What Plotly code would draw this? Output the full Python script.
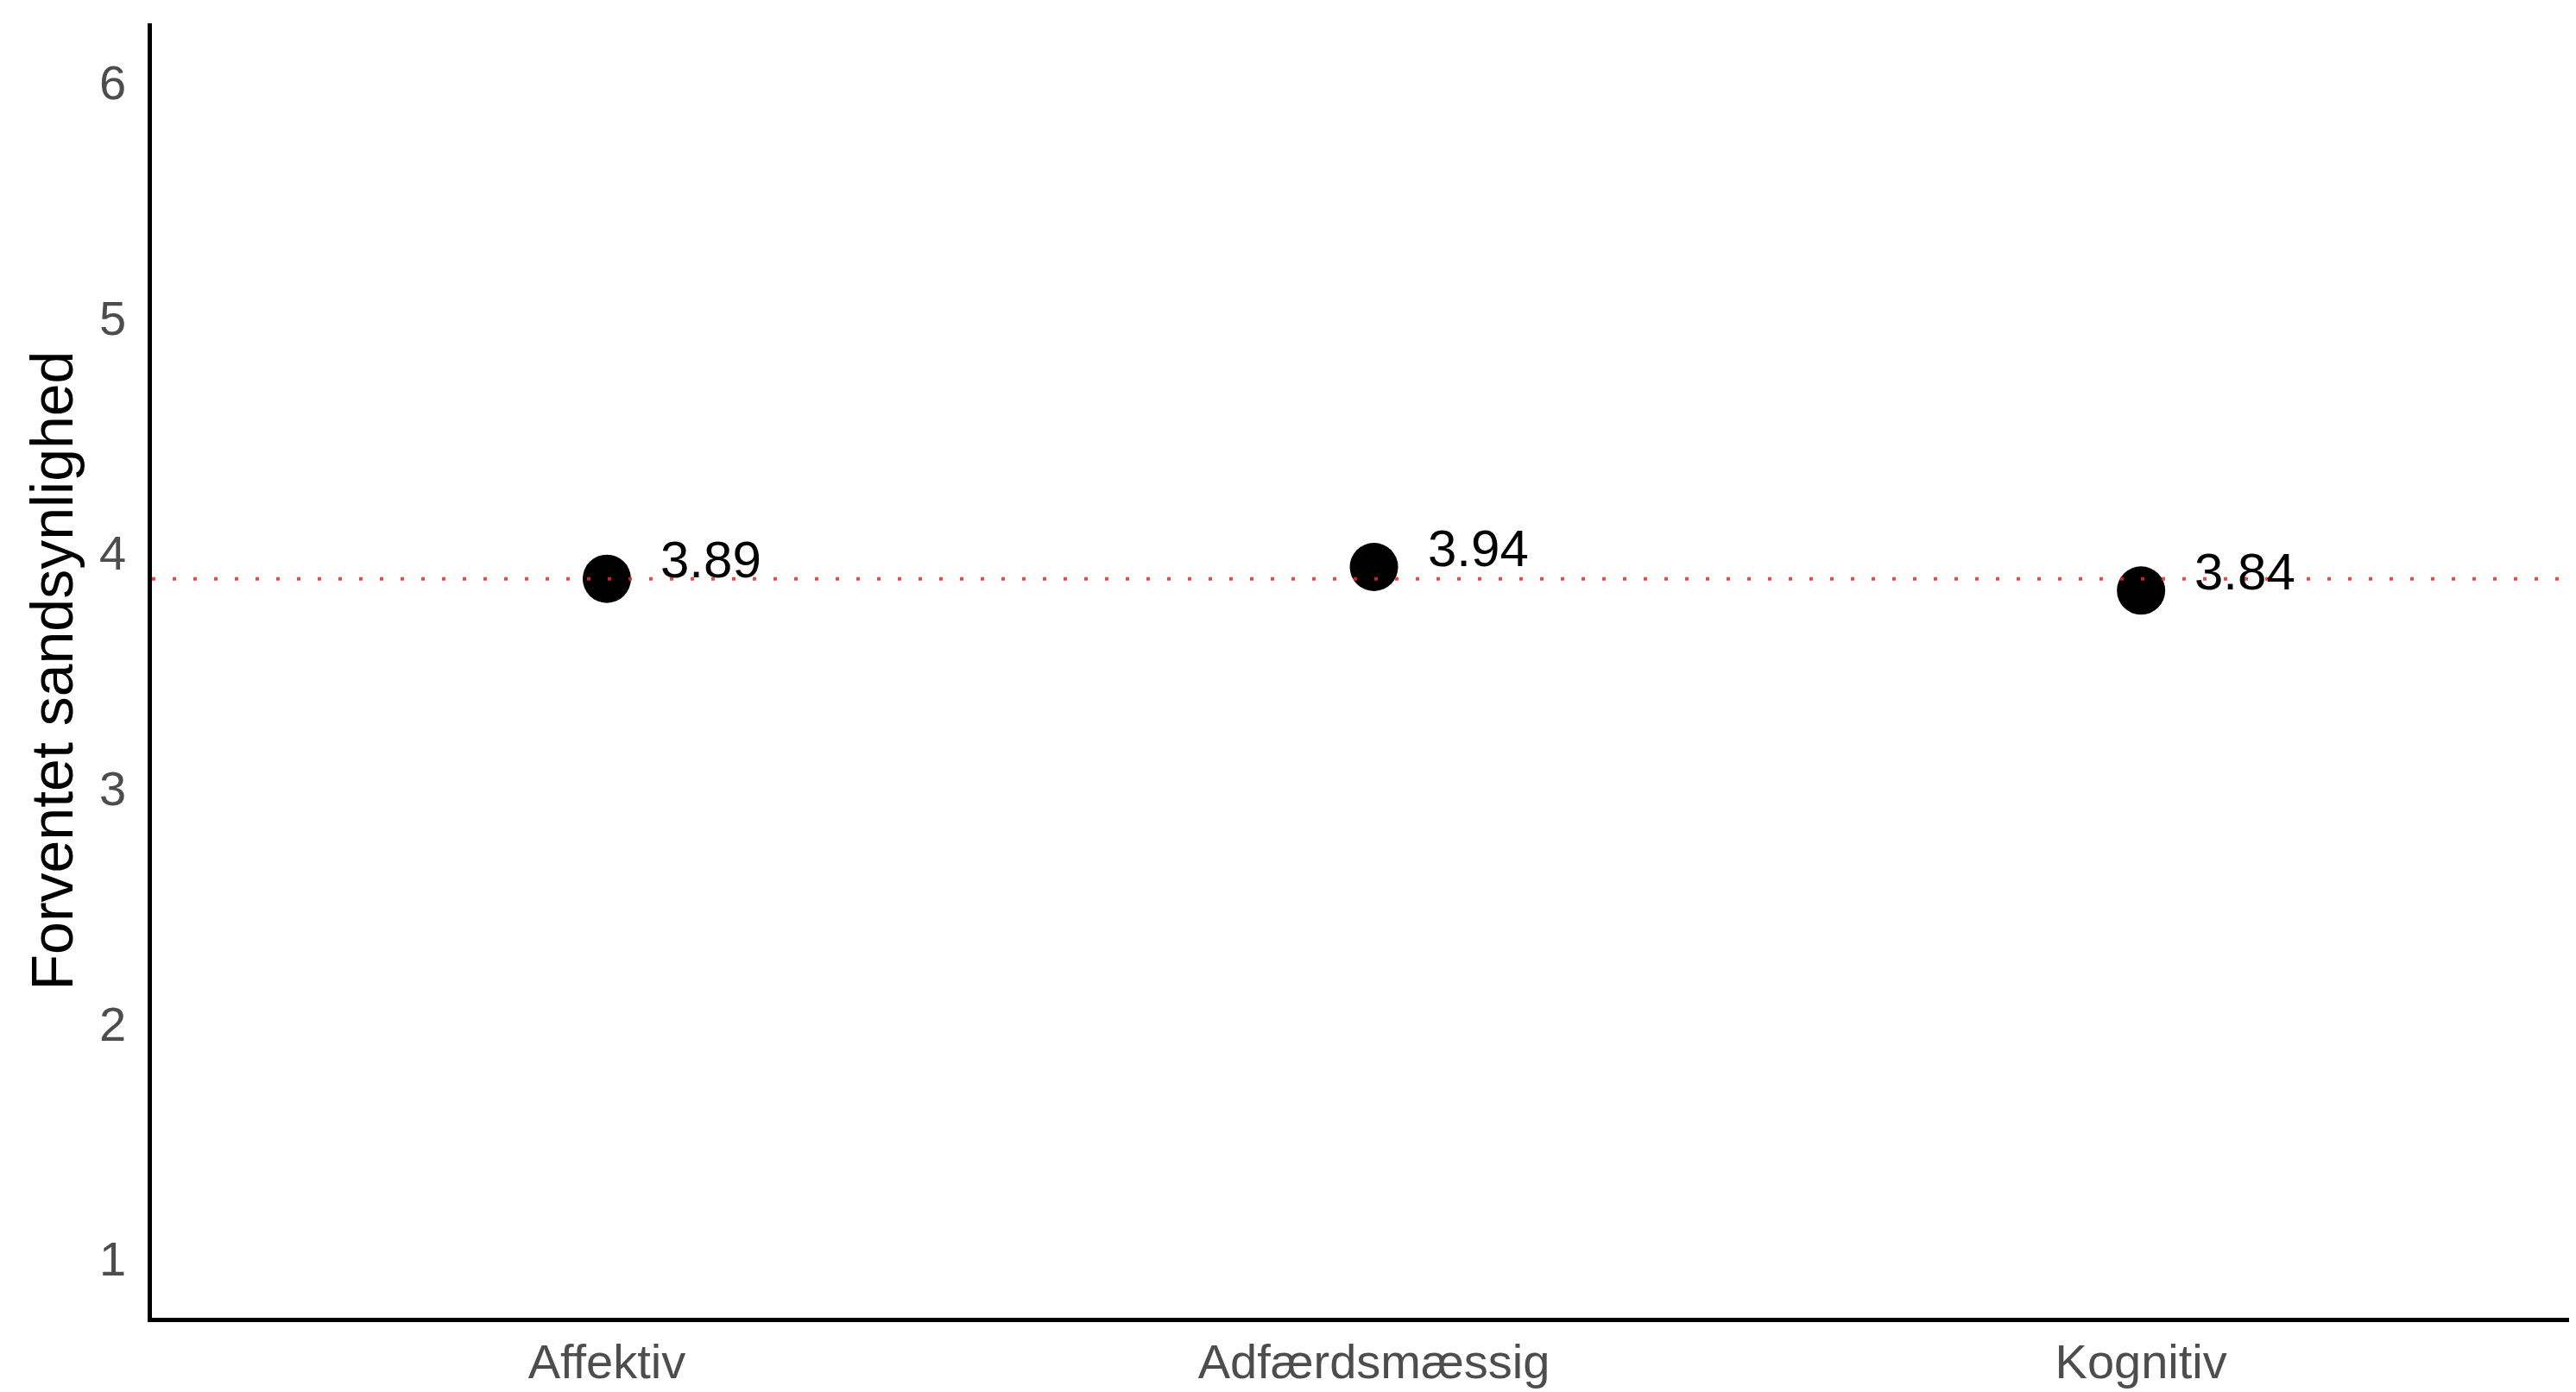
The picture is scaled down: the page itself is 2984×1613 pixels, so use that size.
import plotly.graph_objects as go

categories = ["Affektiv", "Adfærdsmæssig", "Kognitiv"]
values = [3.89, 3.94, 3.84]
labels = ["3.89", "3.94", "3.84"]
y_ticks = [1, 2, 3, 4, 5, 6]
y_title = "Forventet sandsynlighed"

mean_val = sum(values) / len(values)

FONT = "Liberation Sans, Arial, Helvetica, sans-serif"

fig = go.Figure()
fig.add_trace(go.Scatter(
    x=categories, y=values, mode="markers",
    marker=dict(size=56, color="black"),
    showlegend=False, hoverinfo="skip",
))

fig.add_shape(
    type="line", xref="paper", yref="y", x0=0, x1=1, y0=mean_val, y1=mean_val,
    line=dict(color="rgba(235,40,40,0.85)", width=4, dash="4px,20px"),
    layer="above",
)

for c, v, t in zip(categories, values, labels):
    fig.add_annotation(
        x=c, y=v, text=t, showarrow=False,
        xanchor="left", yanchor="middle", xshift=60, yshift=22,
        font=dict(family=FONT, size=60, color="black"),
    )

fig.update_layout(
    width=2984, height=1613,
    margin=dict(l=168, r=0, t=19, b=94),
    paper_bgcolor="white", plot_bgcolor="white",
    font=dict(family=FONT),
)
fig.update_xaxes(
    type="category", range=[-0.593, 2.576],
    showline=True, linecolor="black", linewidth=4.5,
    showgrid=False, zeroline=False, ticks="",
    tickfont=dict(family=FONT, size=56, color="#4d4d4d"),
    ticklabelstandoff=-2,
)
fig.update_yaxes(
    range=[0.75, 6.25], tickvals=y_ticks,
    showline=True, linecolor="black", linewidth=4.5,
    showgrid=False, zeroline=False, ticks="",
    tickfont=dict(family=FONT, size=56, color="#4d4d4d"),
    ticklabelstandoff=14,
    title=dict(text=y_title, font=dict(family=FONT, size=68, color="black"), standoff=10),
)

fig.write_html("out.html")
